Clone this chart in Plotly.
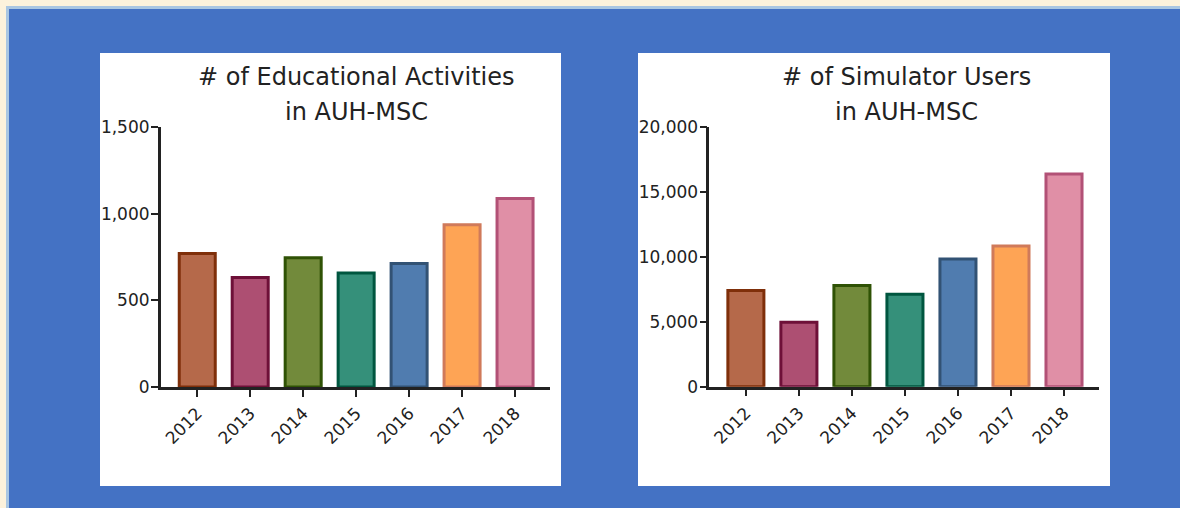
import plotly.graph_objects as go

years = ["2012", "2013", "2014", "2015", "2016", "2017", "2018"]
activities = [770, 632, 745, 658, 712, 936, 1088]
sim_users = [7400, 4960, 7790, 7120, 9830, 10830, 16370]
act_ticks = [0, 500, 1000, 1500]
user_ticks = [0, 5000, 10000, 15000, 20000]

fill_colors = ["#b5694a", "#ad4f72", "#728a3b", "#35907a", "#507caf", "#fea455", "#e08fa6"]
line_colors = ["#7f2f0a", "#6e1038", "#2f5205", "#00563f", "#325274", "#d07a5a", "#b25176"]

W, H = 1180, 508

def px_x(p):
    return p / W

def px_y(p):
    return 1 - p / H

fig = go.Figure()
fig.add_trace(go.Bar(x=years, y=activities, xaxis="x", yaxis="y", width=0.68,
                     marker=dict(color=fill_colors, line=dict(color=line_colors, width=3)),
                     showlegend=False))
fig.add_trace(go.Bar(x=years, y=sim_users, xaxis="x2", yaxis="y2", width=0.68,
                     marker=dict(color=fill_colors, line=dict(color=line_colors, width=3)),
                     showlegend=False))

shapes = [
    dict(type="rect", xref="paper", yref="paper", x0=px_x(6), x1=1, y0=0, y1=px_y(6),
         fillcolor="#a9c6e2", line=dict(width=0), layer="below"),
    dict(type="rect", xref="paper", yref="paper", x0=px_x(9), x1=1, y0=0, y1=px_y(9),
         fillcolor="#4472c4", line=dict(width=0), layer="below"),
    dict(type="rect", xref="paper", yref="paper", x0=px_x(100), x1=px_x(561), y0=px_y(486), y1=px_y(53),
         fillcolor="white", line=dict(width=0), layer="below"),
    dict(type="rect", xref="paper", yref="paper", x0=px_x(638), x1=px_x(1110), y0=px_y(486), y1=px_y(53),
         fillcolor="white", line=dict(width=0), layer="below"),
]

title_font = dict(family="DejaVu Sans", size=24, color="#222222")
annotations = [
    dict(text="# of Educational Activities", x=px_x(356), y=px_y(77)),
    dict(text="in AUH-MSC", x=px_x(356), y=px_y(112)),
    dict(text="# of Simulator Users", x=px_x(906), y=px_y(77)),
    dict(text="in AUH-MSC", x=px_x(906), y=px_y(112)),
]
for a in annotations:
    a.update(xref="paper", yref="paper", xanchor="center", yanchor="middle",
             showarrow=False, font=title_font)

tick_font = dict(family="DejaVu Sans", size=17, color="#222222")
xcommon = dict(type="category", range=[-0.69, 6.66], showline=True, linewidth=2.5, linecolor="#222222",
               ticks="outside", ticklen=7, tickwidth=2, tickcolor="#222222", tickangle=-45,
               tickfont=tick_font, showgrid=False, zeroline=False, fixedrange=True, automargin=False)
ycommon = dict(showline=True, linewidth=2.5, linecolor="#222222", ticks="outside", ticklen=7,
               tickwidth=2, tickcolor="#222222", tickfont=tick_font, showgrid=False,
               zeroline=False, tickformat=",", fixedrange=True, automargin=False,
               ticklabelstandoff=-2)

fig.update_layout(
    width=W, height=H, autosize=False,
    margin=dict(l=0, r=0, t=0, b=0, pad=0, autoexpand=False),
    paper_bgcolor="#fcf2dc", plot_bgcolor="rgba(0,0,0,0)", showlegend=False,
    shapes=shapes, annotations=annotations,
    xaxis=dict(domain=[px_x(160.7), px_x(550)], anchor="y", **xcommon),
    yaxis=dict(domain=[px_y(387), px_y(127)], anchor="x", range=[0, 1500], tickvals=act_ticks, **ycommon),
    xaxis2=dict(domain=[px_x(709.3), px_x(1099)], anchor="y2", **xcommon),
    yaxis2=dict(domain=[px_y(386.7), px_y(126.7)], anchor="x2", range=[0, 20000], tickvals=user_ticks, **ycommon),
)

fig.write_html("out.html", config={"displayModeBar": False},
               post_script="document.body.style.margin='0';document.body.style.overflow='hidden';")
